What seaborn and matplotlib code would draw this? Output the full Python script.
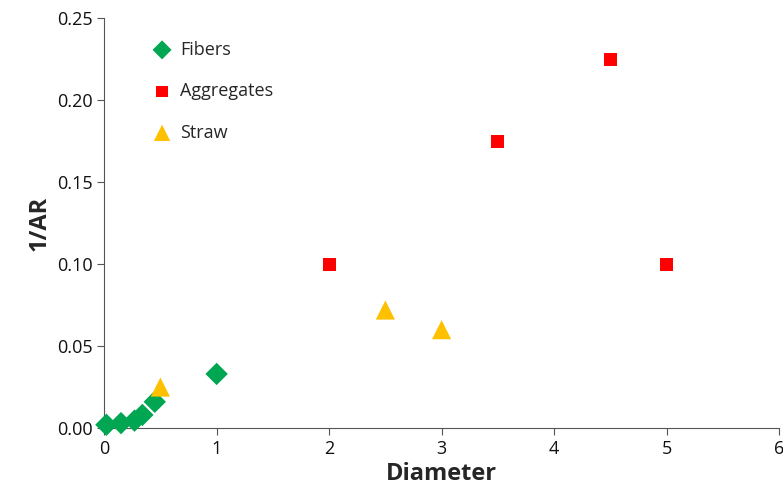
import pandas as pd
import matplotlib.pyplot as plt
import seaborn as sns

# values
fibers_d = [0.02, 0.15, 0.27, 0.34, 0.45, 1.0]
fibers_ar = [0.002, 0.003, 0.0045, 0.008, 0.016, 0.033]
aggr_d = [2.0, 3.5, 4.5, 5.0]
aggr_ar = [0.100, 0.175, 0.225, 0.100]
straw_d = [0.5, 2.5, 3.0]
straw_ar = [0.025, 0.072, 0.060]

df = pd.concat([
    pd.DataFrame({"Diameter": fibers_d, "1/AR": fibers_ar, "Type": "Fibers"}),
    pd.DataFrame({"Diameter": aggr_d, "1/AR": aggr_ar, "Type": "Aggregates"}),
    pd.DataFrame({"Diameter": straw_d, "1/AR": straw_ar, "Type": "Straw"}),
])

sns.set_style("ticks")
plt.rcParams["font.family"] = ["Open Sans", "DejaVu Sans"]

colors = {"Fibers": "#00a651", "Aggregates": "#ff0000", "Straw": "#ffc000"}
markers = {"Fibers": "D", "Aggregates": "s", "Straw": "^"}
sizes = {"Fibers": 130, "Aggregates": 90, "Straw": 190}

fig = plt.figure(figsize=(7.83, 4.92), dpi=100)
ax = fig.add_axes([0.133, 0.13, 0.862, 0.833])
for t in ["Fibers", "Aggregates", "Straw"]:
    sub = df[df["Type"] == t]
    sns.scatterplot(data=sub, x="Diameter", y="1/AR", color=colors[t],
                    marker=markers[t], s=sizes[t], edgecolor="none",
                    label=t, ax=ax, clip_on=False, zorder=3)

ax.set_xlim(0, 6)
ax.set_ylim(0, 0.25)
ax.set_xticks(range(0, 7))
ax.set_yticks([0, 0.05, 0.10, 0.15, 0.20, 0.25])
ax.set_yticklabels(["0.00", "0.05", "0.10", "0.15", "0.20", "0.25"])
ax.tick_params(labelsize=13, color="#555555", length=5, labelcolor="#111111")
ax.set_xlabel("Diameter", fontsize=17, fontweight="bold", labelpad=3)
ax.set_ylabel("1/AR", fontsize=17, fontweight="bold", labelpad=4)
for sp in ["left", "bottom"]:
    ax.spines[sp].set_color("#555555")
sns.despine(ax=ax)

leg = ax.legend(loc="upper left", bbox_to_anchor=(0.035, 0.985), frameon=False,
                fontsize=13, handletextpad=0.0, labelspacing=1.3,
                markerscale=0.85)

fig.savefig("out.png", dpi=100)
